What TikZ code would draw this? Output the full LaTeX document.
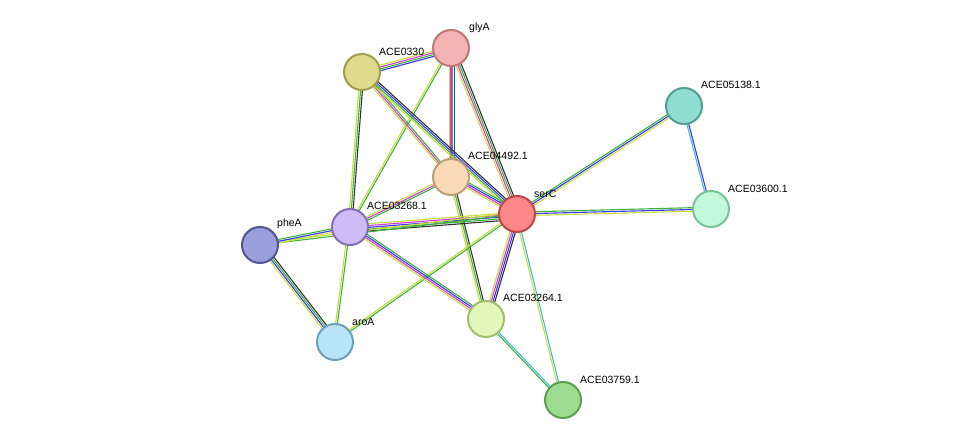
\documentclass[tikz,border=0pt]{standalone}
\usepackage{fontspec}
\setmainfont{Liberation Sans}
\usetikzlibrary{calc}
\definecolor{cgr}{HTML}{3DB23D}
\definecolor{cbl}{HTML}{3A3AF0}
\definecolor{cye}{HTML}{C8DC3C}
\definecolor{cmg}{HTML}{D23CD2}
\definecolor{ccy}{HTML}{3CBED8}
\definecolor{cbk}{HTML}{333333}
\newcommand\edg[3]{\foreach \c [count=\i] in {#3} {\pgfmathsetmacro\o{(\i-2)*1.8}\draw[\c,line width=1.1pt] ($(#1)!\o pt!90:(#2)$) -- ($(#2)!\o pt!-90:(#1)$);}}
\tikzset{prot/.style={circle,draw,line width=2pt,minimum size=36pt,inner sep=0pt},
lab/.style={anchor=south west,font=\fontsize{10.5}{12}\selectfont,inner sep=1pt}}
\begin{document}
\begin{tikzpicture}[x=1pt,y=-1pt]
\useasboundingbox[fill=white] (0,0) rectangle (975,446);
\coordinate (glyA) at (451,48);
\coordinate (a330) at (362,72);
\coordinate (a138) at (684,106);
\coordinate (a492) at (451,177);
\coordinate (serC) at (517,214);
\coordinate (a600) at (711,209);
\coordinate (pheA) at (260,245);
\coordinate (a268) at (350,227);
\coordinate (a264) at (486,319);
\coordinate (aroA) at (335,342);
\coordinate (a759) at (563,400);
\edg{glyA}{a330}{cye,cmg,cgr,cbl}
\edg{glyA}{a492}{cye,cmg,cgr,cbl}
\edg{glyA}{serC}{cye,cmg,cgr,cbk}
\edg{glyA}{a268}{cye,cgr}
\edg{a330}{a492}{cye,cmg,cgr}
\edg{a330}{serC}{cye,cgr,cbl,cbk}
\edg{a330}{a268}{cye,cgr,cbk}
\edg{a492}{serC}{cye,cmg,cbl,cgr}
\edg{a492}{a268}{cye,cmg,cgr}
\edg{a492}{a264}{cye,cgr,cbk}
\edg{serC}{a138}{cye,cbl,cgr}
\edg{serC}{a600}{cye,cbl,cgr}
\edg{a138}{a600}{ccy,cbl}
\edg{serC}{a268}{cye,cmg,cbl,cgr,cbk}
\edg{serC}{pheA}{cye,cgr}
\edg{serC}{aroA}{cye,cgr}
\edg{serC}{a264}{cye,cmg,cbl,cbk}
\edg{serC}{a759}{cye,ccy}
\edg{pheA}{a268}{cye,cbl,cgr}
\edg{pheA}{aroA}{cye,cbl,cgr,cbk}
\edg{a268}{aroA}{cye,cgr}
\edg{a268}{a264}{cye,cmg,cbl,cgr}
\edg{a264}{a759}{cgr,ccy}
\node[prot,fill={rgb,255:red,244;green,180;blue,180},draw={rgb,255:red,190;green,120;blue,120}] (nglyA) at (glyA) {};
\node[prot,fill={rgb,255:red,222;green,220;blue,140},draw={rgb,255:red,160;green,158;blue,80}] (n330) at (a330) {};
\node[prot,fill={rgb,255:red,144;green,222;blue,210},draw={rgb,255:red,80;green,160;blue,145}] (n138) at (a138) {};
\node[prot,fill={rgb,255:red,252;green,218;blue,184},draw={rgb,255:red,190;green,160;blue,120}] (n492) at (a492) {};
\node[prot,fill={rgb,255:red,250;green,136;blue,136},draw={rgb,255:red,190;green,70;blue,70}] (nserC) at (serC) {};
\node[prot,fill={rgb,255:red,196;green,248;blue,218},draw={rgb,255:red,120;green,196;blue,150}] (n600) at (a600) {};
\node[prot,fill={rgb,255:red,154;green,158;blue,218},draw={rgb,255:red,80;green,86;blue,150}] (npheA) at (pheA) {};
\node[prot,fill={rgb,255:red,206;green,188;blue,246},draw={rgb,255:red,130;green,112;blue,180}] (n268) at (a268) {};
\node[prot,fill={rgb,255:red,226;green,248;blue,186},draw={rgb,255:red,160;green,190;blue,110}] (n264) at (a264) {};
\node[prot,fill={rgb,255:red,184;green,228;blue,248},draw={rgb,255:red,110;green,160;blue,190}] (naroA) at (aroA) {};
\node[prot,fill={rgb,255:red,158;green,220;blue,144},draw={rgb,255:red,90;green,160;blue,80}] (n759) at (a759) {};
\node[lab] at (468,34) {glyA};
\node[lab] at (378,57) {ACE0330};
\node[lab] at (700,90) {ACE05138.1};
\node[lab] at (467,161) {ACE04492.1};
\node[lab] at (533,199) {serC};
\node[lab] at (727,194) {ACE03600.1};
\node[lab] at (276,230) {pheA};
\node[lab] at (366,211) {ACE03268.1};
\node[lab] at (502,303) {ACE03264.1};
\node[lab] at (351,327) {aroA};
\node[lab] at (579,385) {ACE03759.1};
\end{tikzpicture}
\end{document}
